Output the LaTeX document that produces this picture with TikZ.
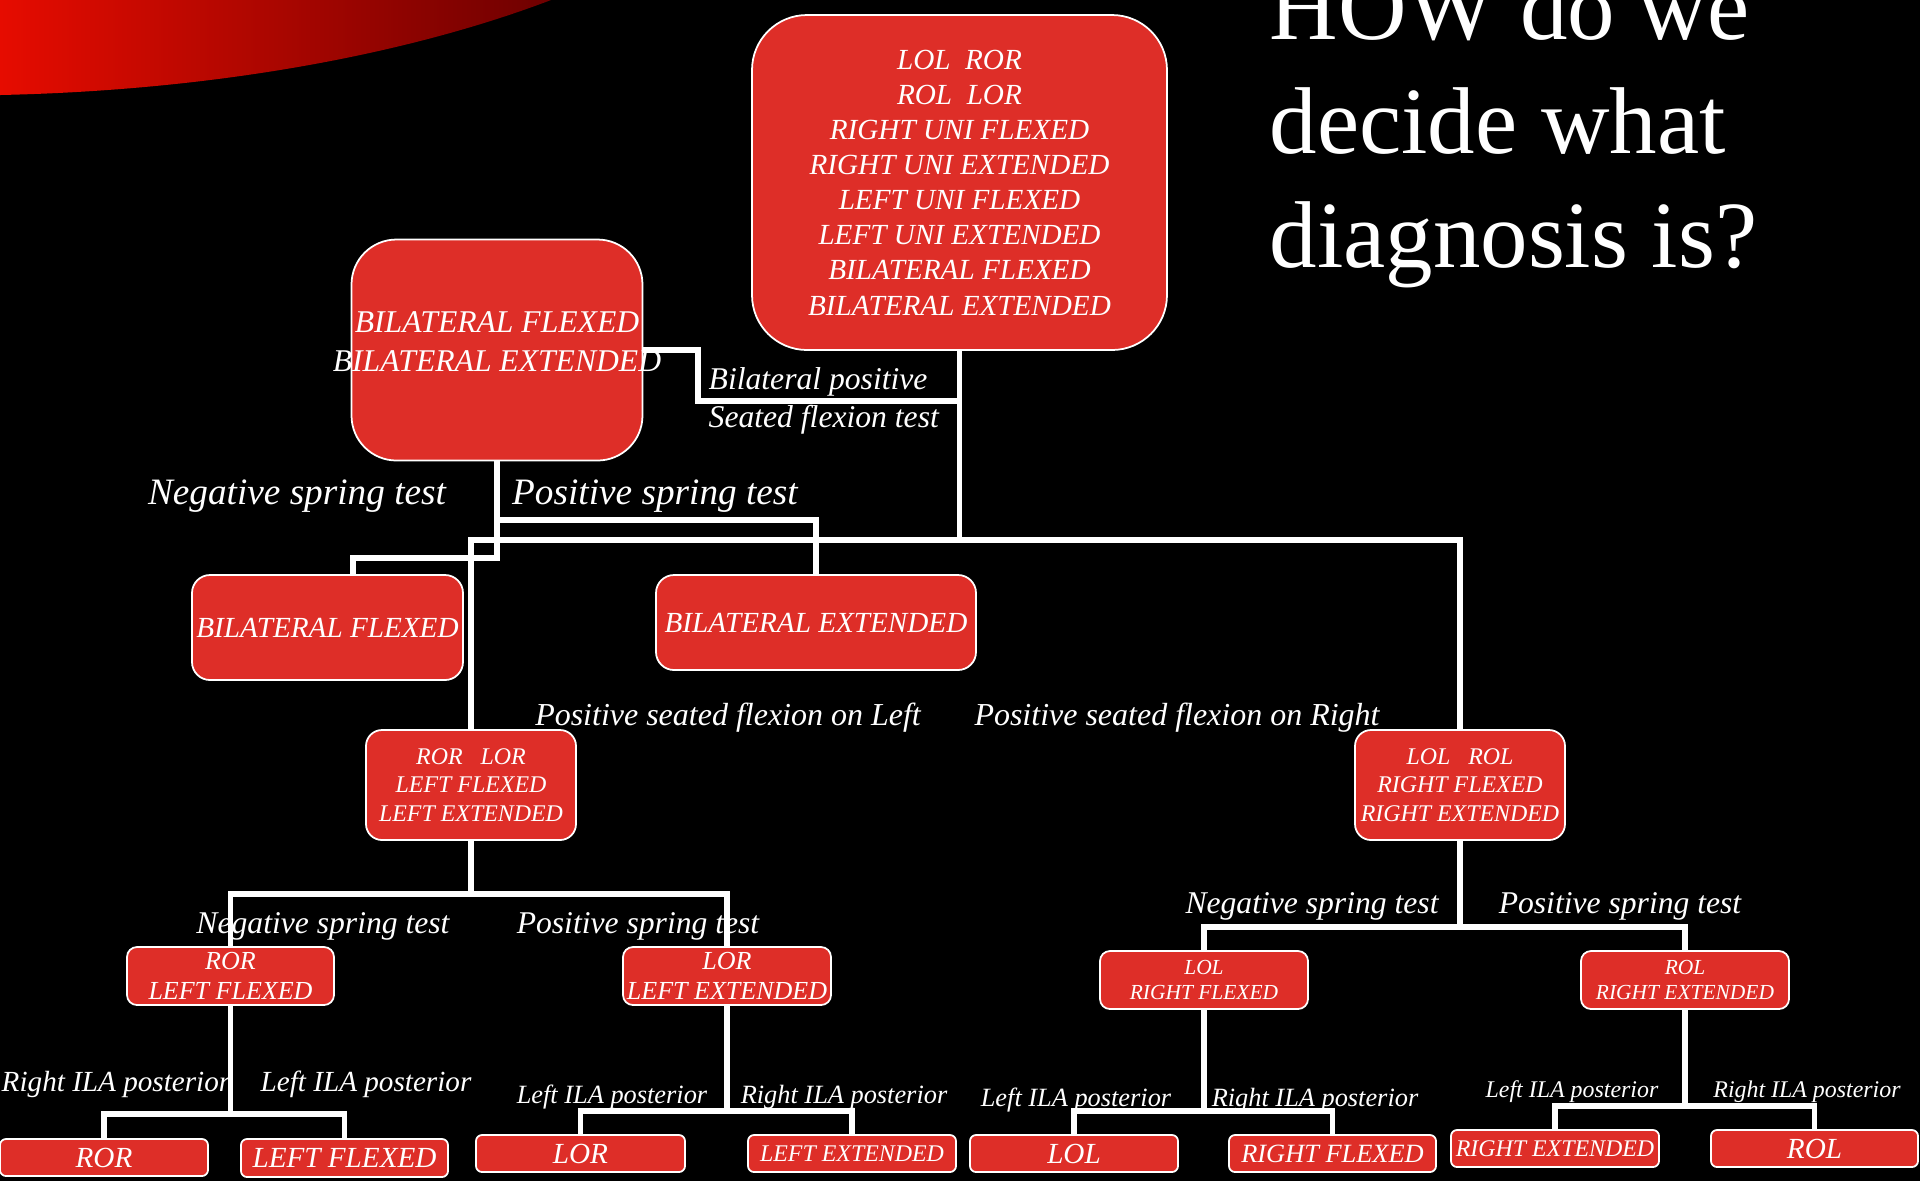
\documentclass[tikz,border=0pt]{standalone}
\usepackage{fontspec}
\setmainfont{Liberation Serif}
\usetikzlibrary{calc}
\definecolor{boxred}{RGB}{222,46,40}
\definecolor{swoosha}{RGB}{230,12,0}
\definecolor{swooshm}{RGB}{200,5,0}
\definecolor{swooshb}{RGB}{110,0,0}
\newcommand{\itsz}[2]{\itshape\fontsize{#1}{#2}\selectfont}

\begin{document}
\begin{tikzpicture}[x=0.1mm,y=-0.1mm,
  box/.style={draw=white,line width=0.5pt,fill=boxred,text=white,align=center,inner sep=0pt},
  lbl/.style={text=white,inner sep=0pt,align=center},
  link/.style={draw=white,line width=1.5pt}]
\fill[black] (0,0) rectangle (1920,1181);
\useasboundingbox (0,0) rectangle (1920,1181);
\fill[left color=swoosha,middle color=swooshm,right color=swooshb] (0,0) -- (551,0) .. controls (420,50) and (230,90) .. (0,95) -- cycle;
\node[lbl,anchor=base west,align=left,font=\fontsize{27}{32.4}\selectfont] (ttl) at (1269,267) {HOW do we\\decide what\\diagnosis is?};
% boxes
\node[box,minimum width=41.5mm,minimum height=33.5mm,rounded corners=5.5mm,font=\itsz{8.3}{10}] (top) at (959.5,182.5)
  {LOL\ \ ROR\\ROL\ \ LOR\\RIGHT UNI FLEXED\\RIGHT UNI EXTENDED\\LEFT UNI FLEXED\\LEFT UNI EXTENDED\\BILATERAL FLEXED\\BILATERAL EXTENDED};
\node[box,minimum width=29.1mm,minimum height=22.1mm,rounded corners=4.5mm] (bb) at (497,350) {};
\node[box,minimum width=27.1mm,minimum height=10.5mm,rounded corners=1.8mm,font=\itsz{8.3}{10}] (bf) at (327.5,627.5) {BILATERAL FLEXED};
\node[box,minimum width=32mm,minimum height=9.5mm,rounded corners=1.8mm,font=\itsz{8.3}{10}] (be) at (816,622.5) {BILATERAL EXTENDED};
\node[box,minimum width=21mm,minimum height=11mm,rounded corners=1.6mm,font=\itsz{6.8}{8.2}] (rorlor) at (471,785) {ROR\ \ \ LOR\\LEFT FLEXED\\LEFT EXTENDED};
\node[box,minimum width=21mm,minimum height=11mm,rounded corners=1.6mm,font=\itsz{6.8}{8.2}] (lolrol) at (1460,785) {LOL\ \ \ ROL\\RIGHT FLEXED\\RIGHT EXTENDED};
\node[box,minimum width=20.7mm,minimum height=5.8mm,rounded corners=1mm,font=\itsz{7.4}{8.7}] (rorlf) at (230.5,976) {ROR\\LEFT FLEXED};
\node[box,minimum width=20.8mm,minimum height=5.8mm,rounded corners=1mm,font=\itsz{7.4}{8.7}] (lorle) at (727,976) {LOR\\LEFT EXTENDED};
\node[box,minimum width=20.8mm,minimum height=5.8mm,rounded corners=1mm,font=\itsz{6.1}{6.9}] (lolrf) at (1204,980) {LOL\\RIGHT FLEXED};
\node[box,minimum width=20.8mm,minimum height=5.8mm,rounded corners=1mm,font=\itsz{6.1}{6.9}] (rolre) at (1685,980) {ROL\\RIGHT EXTENDED};
\node[box,minimum width=20.8mm,minimum height=3.7mm,rounded corners=0.6mm,font=\itsz{8.3}{10}] (ror) at (104,1157.5) {ROR};
\node[box,minimum width=20.7mm,minimum height=3.8mm,rounded corners=0.6mm,font=\itsz{8.3}{10}] (lf) at (344.5,1158) {LEFT FLEXED};
\node[box,minimum width=20.9mm,minimum height=3.7mm,rounded corners=0.6mm,font=\itsz{8.3}{10}] (lor) at (580.5,1153.5) {LOR};
\node[box,minimum width=20.8mm,minimum height=3.7mm,rounded corners=0.6mm,font=\itsz{6.8}{8}] (le) at (852,1153.5) {LEFT EXTENDED};
\node[box,minimum width=20.8mm,minimum height=3.7mm,rounded corners=0.6mm,font=\itsz{8.3}{10}] (lol) at (1074,1153.5) {LOL};
\node[box,minimum width=20.7mm,minimum height=3.7mm,rounded corners=0.6mm,font=\itsz{7.5}{9}] (rf) at (1332.5,1153.5) {RIGHT FLEXED};
\node[box,minimum width=20.8mm,minimum height=3.7mm,rounded corners=0.6mm,font=\itsz{6.8}{8}] (re) at (1555,1148.5) {RIGHT EXTENDED};
\node[box,minimum width=20.7mm,minimum height=3.7mm,rounded corners=0.6mm,font=\itsz{8.3}{10}] (rol) at (1814.5,1148.5) {ROL};
% connectors
\draw[link] (top.south) -- (top.south |- 0,540);
\draw[link] (rorlor.north) -- (rorlor.north |- 0,540) -- (lolrol.north |- 0,540) -- (lolrol.north);
\draw[link] (top.south |- 0,401) -| (698,350) -- (bb.east);
\draw[link] (bb.south) -- (bb.south |- 0,558) -| ($(bf.north)+(25.5,0)$);
\draw[link] (bb.south |- 0,520) -| (be.north);
\draw[link] (rorlor.south) -- (rorlor.south |- 0,894);
\draw[link] (rorlf.north) -- (rorlf.north |- 0,894) -- (lorle.north |- 0,894) -- (lorle.north);
\draw[link] (lolrol.south) -- (lolrol.south |- 0,927);
\draw[link] (lolrf.north) -- (lolrf.north |- 0,927) -- (rolre.north |- 0,927) -- (rolre.north);
\foreach \p/\a/\b/\y in {rorlf/ror/lf/1114,lorle/lor/le/1111,lolrf/lol/rf/1111,rolre/re/rol/1106} {
  \draw[link] (\p.south) -- (\p.south |- 0,\y);
  \draw[link] (\a.north) -- (\a.north |- 0,\y) -- (\b.north |- 0,\y) -- (\b.north);
}
% labels
\node[lbl,font=\itsz{9}{11.1}] (bbtxt) at (497,342) {BILATERAL FLEXED\\BILATERAL EXTENDED};
\node[lbl,anchor=west,align=left,font=\itsz{9}{10.8}] (seat) at (708,401) {Bilateral positive\\Seated flexion test};
\node[lbl,font=\itsz{10.6}{12}] (neg1) at (297,496) {Negative spring test};
\node[lbl,font=\itsz{10.6}{12}] (pos1) at (655,496) {Positive spring test};
\node[lbl,font=\itsz{9.1}{11}] (sfl) at (728,718) {Positive seated flexion on Left};
\node[lbl,font=\itsz{9.1}{11}] (sfr) at (1177,718) {Positive seated flexion on Right};
\node[lbl,font=\itsz{9}{11}] (neg2) at (323,926) {Negative spring test};
\node[lbl,font=\itsz{9}{11}] (pos2) at (638,926) {Positive spring test};
\node[lbl,font=\itsz{9}{11}] (neg3) at (1312,906) {Negative spring test};
\node[lbl,font=\itsz{9}{11}] (pos3) at (1620,906) {Positive spring test};
\node[lbl,font=\itsz{8.3}{10}] (ila1) at (116,1084) {Right ILA posterior};
\node[lbl,font=\itsz{8.3}{10}] (ila2) at (366,1084) {Left ILA posterior};
\node[lbl,font=\itsz{7.5}{9}] (ila3) at (612,1097) {Left ILA posterior};
\node[lbl,font=\itsz{7.5}{9}] (ila4) at (844,1097) {Right ILA posterior};
\node[lbl,font=\itsz{7.5}{9}] (ila5) at (1076,1100) {Left ILA posterior};
\node[lbl,font=\itsz{7.5}{9}] (ila6) at (1315,1100) {Right ILA posterior};
\node[lbl,font=\itsz{6.8}{8}] (ila7) at (1572,1092) {Left ILA posterior};
\node[lbl,font=\itsz{6.8}{8}] (ila8) at (1807,1092) {Right ILA posterior};
\end{tikzpicture}
\end{document}
